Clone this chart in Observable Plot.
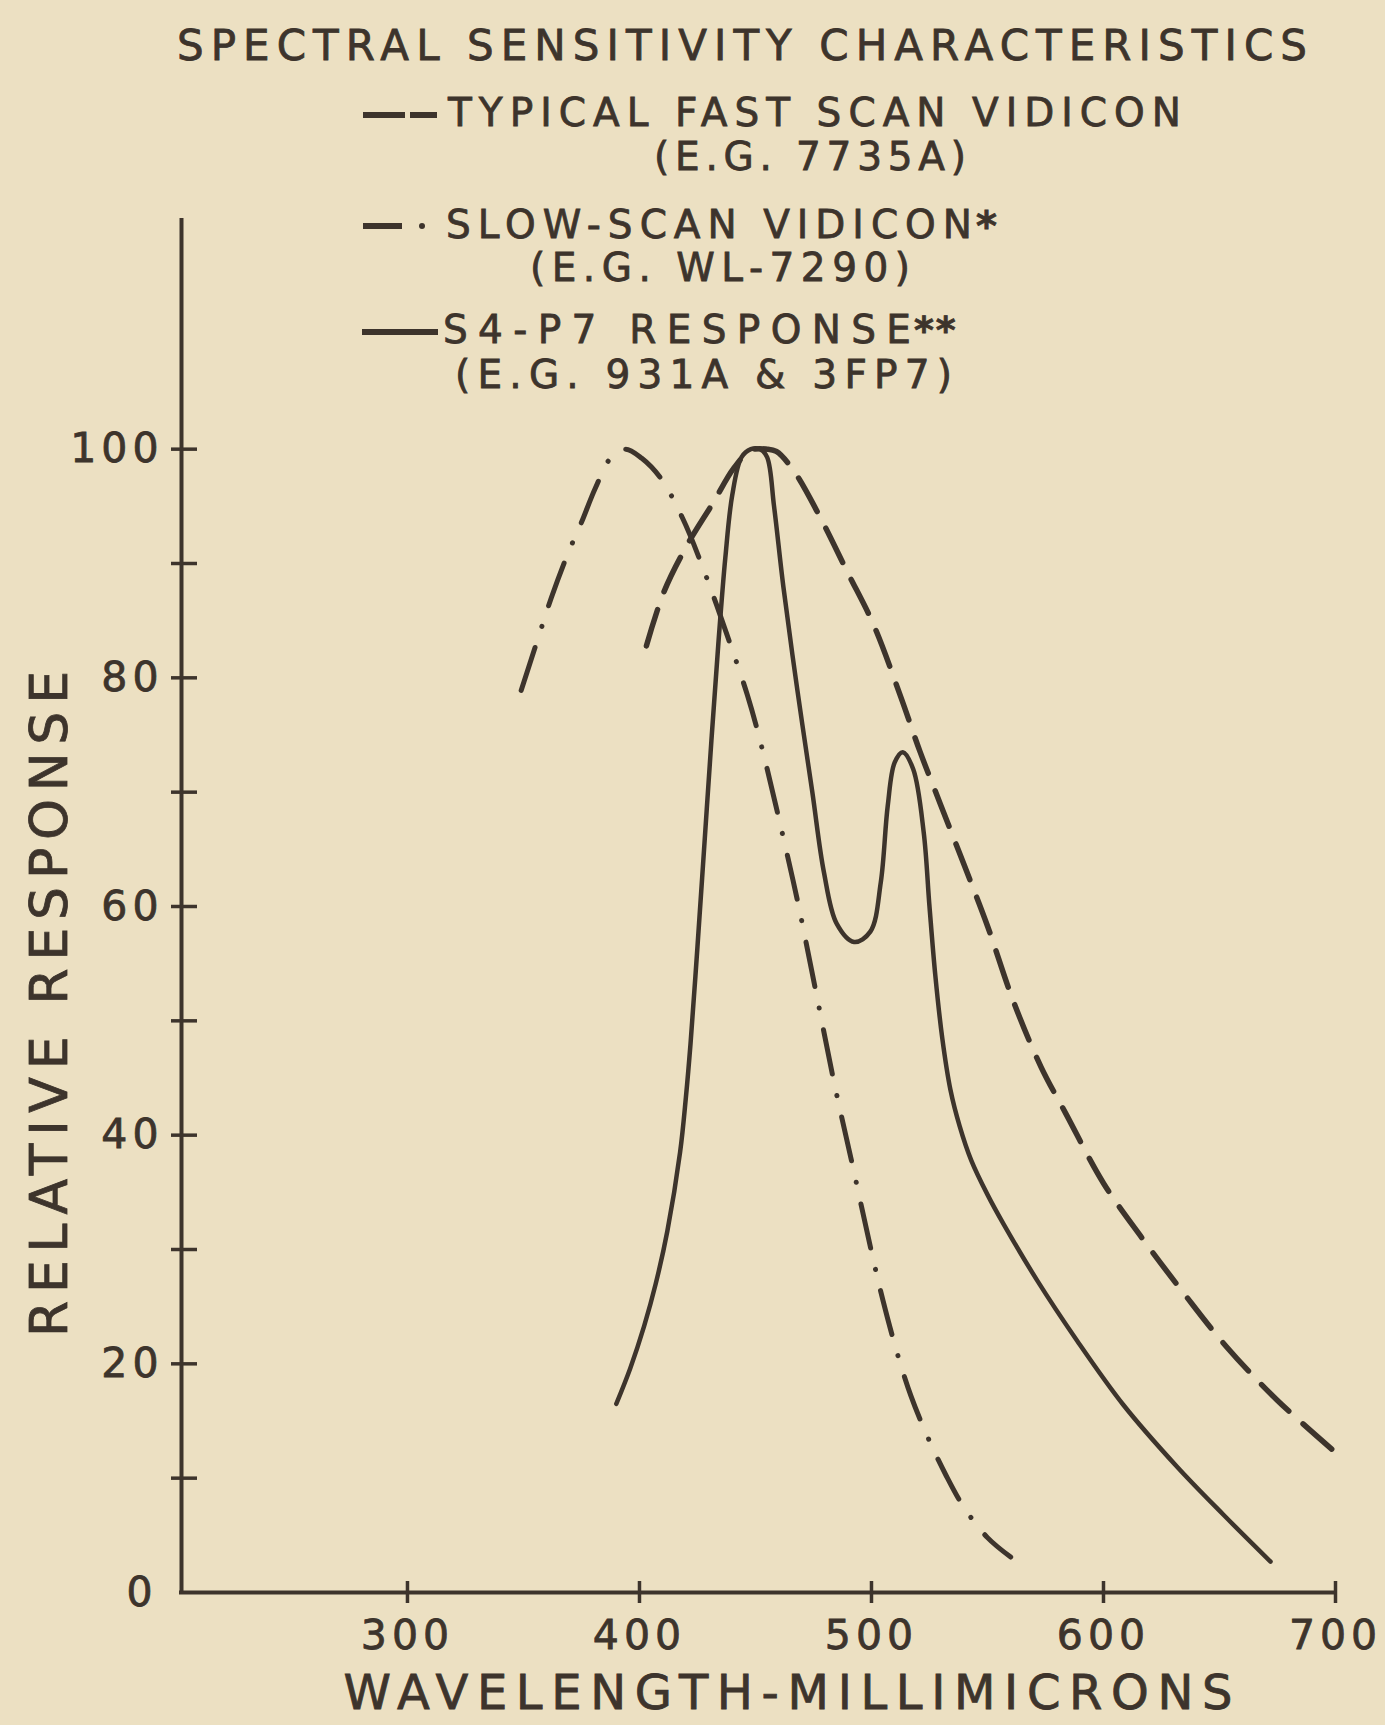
<!DOCTYPE html>
<html><head><meta charset="utf-8">
<script src="https://cdn.jsdelivr.net/npm/d3@7"></script>
<script src="https://cdn.jsdelivr.net/npm/@observablehq/plot@0.6"></script>
<style>
html,body{margin:0;padding:0;background:#ece0c2;}
#wrap{position:relative;width:1385px;height:1725px;overflow:hidden;background:#ece0c2;}
#chart{position:absolute;left:0;top:0;}
#overlay{position:absolute;left:0;top:0;}
.chart text{letter-spacing:5px;stroke:#3d342c;stroke-width:0.8px;}
</style></head>
<body><div id="wrap"><div id="chart"></div><svg id="overlay" width="1385" height="1725"></svg></div>
<script>
const ink = "#3d342c";

// ---- data ----
const title = "SPECTRAL SENSITIVITY CHARACTERISTICS";
const seriesNames = ["TYPICAL FAST SCAN VIDICON", "SLOW-SCAN VIDICON", "S4-P7 RESPONSE"];
const seriesMarks = ["", "*", "**"];
const seriesExamples = ["(E.G. 7735A)", "(E.G. WL-7290)", "(E.G. 931A & 3FP7)"];
const xLabel = "WAVELENGTH-MILLIMICRONS";
const yLabel = "RELATIVE RESPONSE";
const xTicks = [300, 400, 500, 600, 700];
const yTicks = [10, 20, 30, 40, 50, 60, 70, 80, 90, 100];
const xMin = 202.6, xMax = 700, yMax = 120;

const fastWl = [403, 410.5, 420.5, 432, 440.5, 448, 455, 459, 466.5, 478, 489.5, 501, 512.5, 521, 530, 540, 550, 561, 573, 584, 600, 617, 634.5, 653, 675, 702];
const fastResp = [82.8, 87.5, 91.6, 95.4, 98.3, 99.9, 100, 99.8, 98.1, 94, 89.3, 84.6, 78.4, 73.5, 68.8, 63.6, 58.3, 51.8, 46, 41.8, 35.8, 30.9, 26.2, 21.5, 16.8, 11.9];

const slowWl = [349, 356.5, 362, 369, 375, 381, 387.5, 394, 401, 409, 418.5, 428.5, 438, 446.5, 452, 459.5, 468, 476, 484, 492, 500, 505, 511, 517, 524, 532, 540, 550, 560];
const slowResp = [78.9, 83.6, 87, 90.8, 93.6, 96.6, 99.2, 100, 99.2, 97.5, 94, 89, 83.6, 78.5, 74.5, 68.2, 60.6, 52.6, 44.5, 37.2, 29.8, 25.5, 21, 17.2, 13.7, 10.3, 7.4, 4.8, 3.1];

const s4Wl = [390, 396, 402, 407, 412, 417.5, 420, 422, 425, 428, 431, 434, 437, 440, 444, 448, 452, 455, 458, 462, 468, 474.5, 479.5, 485, 492.5, 499.5, 504, 507, 510, 513.5, 518, 522.5, 525, 527.5, 530.5, 534, 538, 543, 550, 557, 571.4, 588.7, 608.6, 631.7, 651.7, 672];
const s4Resp = [16.5, 19.6, 23.3, 27, 31.6, 38.5, 43.3, 48, 56.5, 65.5, 74.5, 83, 90.5, 96, 99.3, 100, 100, 99.3, 95, 88, 79, 70, 63, 58.5, 56.9, 57.8, 62.1, 68.8, 72.6, 73.5, 72, 66.5, 60, 54, 48.5, 44, 40.8, 37.8, 34.8, 32.2, 27.3, 22, 16.4, 11, 6.8, 2.7];

const toRows = (wl, resp) => wl.map((w, i) => ({w, r: resp[i]}));
const fast = toRows(fastWl, fastResp);
const slow = toRows(slowWl, slowResp);
const s4 = toRows(s4Wl, s4Resp);

const dashFast = "38,19";
const dashSlow = "45,22,0.1,22";

const chart = Plot.plot({
  width: 1385, height: 1725,
  marginLeft: 181, marginRight: 50, marginTop: 220, marginBottom: 133,
  className: "chart",
  style: {background: "transparent", color: ink, fontFamily: "DejaVu Sans, sans-serif"},
  x: {domain: [xMin, xMax], label: null},
  y: {domain: [0, yMax], label: null},
  marks: [
    Plot.ruleX([xMin], {stroke: ink, strokeWidth: 4, strokeLinecap: "square"}),
    Plot.ruleY([0], {stroke: ink, strokeWidth: 4, strokeLinecap: "square"}),
    Plot.axisY(yTicks, {tickSize: 26, dx: 16, tickPadding: 8, fontSize: 41, strokeWidth: 3.5,
      tickFormat: d => (d % 20 === 0 ? String(d) : ""), label: null}),
    Plot.axisY([0], {tickSize: 0, tickPadding: 24, fontSize: 41, label: null}),
    Plot.axisX(xTicks, {tickSize: 22, dy: -11, tickPadding: 16, fontSize: 41, strokeWidth: 3.5, label: null}),
    Plot.line(fast, {x: "w", y: "r", curve: "catmull-rom", stroke: ink, strokeWidth: 5.5,
      strokeDasharray: dashFast, strokeLinecap: "round"}),
    Plot.line(slow, {x: "w", y: "r", curve: "catmull-rom", stroke: ink, strokeWidth: 5,
      strokeDasharray: dashSlow, strokeLinecap: "round"}),
    Plot.line(s4, {x: "w", y: "r", curve: "catmull-rom", stroke: ink, strokeWidth: 4.5})
  ]
});
document.getElementById("chart").appendChild(chart);

// ---- title, legend, axis labels ----
const ov = d3.select("#overlay");
const font = "DejaVu Sans, sans-serif";
function txt(s, x, y, size, len, anchor) {
  const t = ov.append("text").text(s).attr("x", x).attr("y", y)
    .attr("font-family", font).attr("font-size", size).attr("fill", ink)
    .attr("stroke", ink).attr("stroke-width", 0.8)
    .attr("text-anchor", anchor || "start");
  if (len) t.attr("textLength", len).attr("lengthAdjust", "spacing");
  return t;
}
txt(title, 742, 60, 42, 1130, "middle");

// legend samples
ov.append("line").attr("x1", 363).attr("x2", 437).attr("y1", 115).attr("y2", 115)
  .attr("stroke", ink).attr("stroke-width", 6).attr("stroke-dasharray", "42,5");
ov.append("line").attr("x1", 363).attr("x2", 402).attr("y1", 226).attr("y2", 226)
  .attr("stroke", ink).attr("stroke-width", 6);
ov.append("circle").attr("cx", 422).attr("cy", 226).attr("r", 3).attr("fill", ink);
ov.append("line").attr("x1", 362).attr("x2", 438).attr("y1", 332).attr("y2", 332)
  .attr("stroke", ink).attr("stroke-width", 6);

// legend texts
txt(seriesNames[0], 448, 126, 39, 733);
txt(seriesExamples[0], 654, 170, 39, 312);
txt(seriesNames[1], 446, 238, 39, 526);
txt(seriesMarks[1], 976, 240, 40).attr("font-weight", "bold");
txt(seriesExamples[1], 530, 281, 39, 380);
txt(seriesNames[2], 443, 343, 39, 468);
txt(seriesMarks[2], 914, 343, 38).attr("font-weight", "bold").attr("letter-spacing", 2);
txt(seriesExamples[2], 455, 388, 39, 497);

// axis titles
txt(yLabel, 0, 0, 52, 666, "middle").attr("transform", "translate(67,1004) rotate(-90)");
txt(xLabel, 788, 1709, 48, 889, "middle");
</script>
</body></html>
